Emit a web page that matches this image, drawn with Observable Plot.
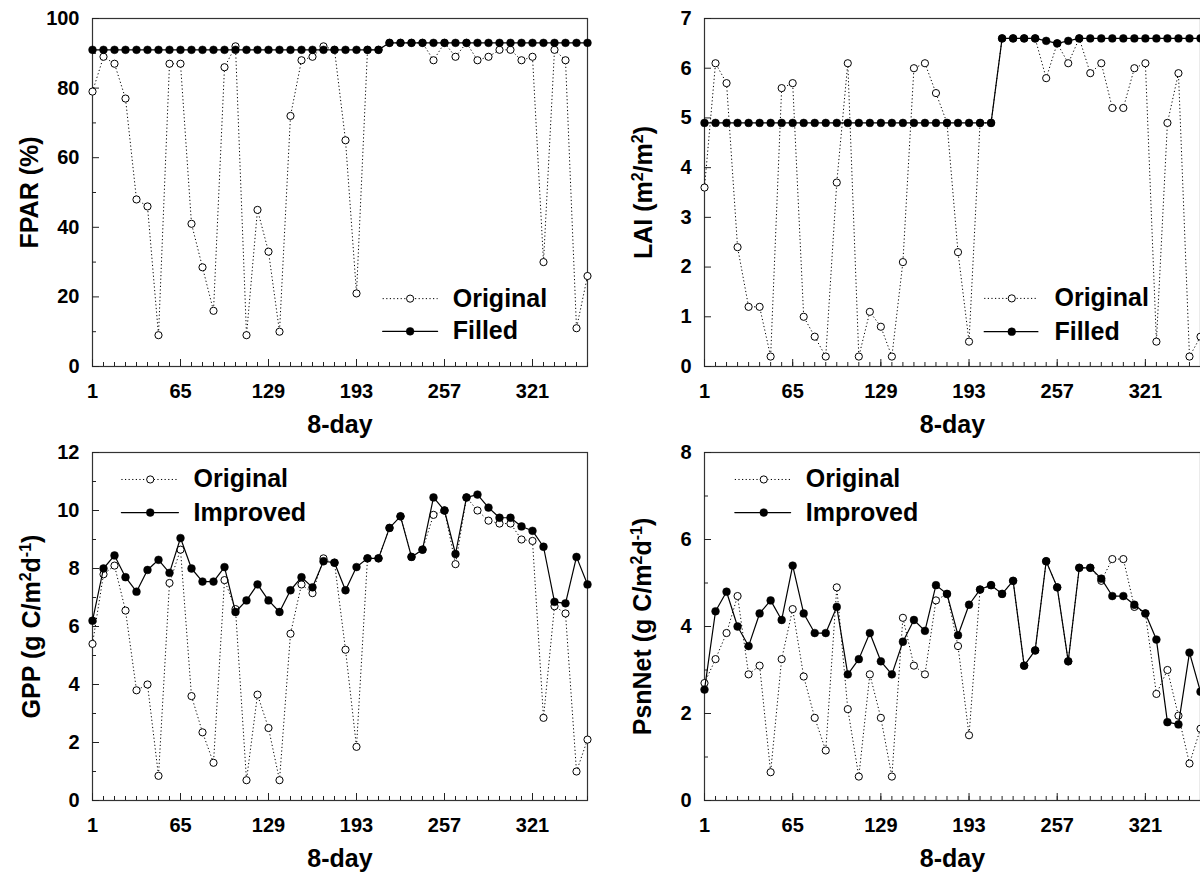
<!DOCTYPE html>
<html>
<head>
<meta charset="utf-8">
<script src="https://cdn.jsdelivr.net/npm/d3@7"></script>
<script src="https://cdn.jsdelivr.net/npm/@observablehq/plot@0.6"></script>
<style>
  html, body { margin: 0; padding: 0; background: #fff; }
  #chart { position: relative; width: 1200px; height: 874px; overflow: hidden; background: #fff; }
  #chart > div { position: absolute; }
</style>
</head>
<body>
<div id="chart"></div>
<script>
// ---------------- data ----------------
const days = [1, 9, 17, 25, 33, 41, 49, 57, 65, 73, 81, 89, 97, 105, 113, 121, 129, 137, 145, 153, 161, 169, 177, 185,
  193, 201, 209, 217, 225, 233, 241, 249, 257, 265, 273, 281, 289, 297, 305, 313, 321, 329, 337, 345, 353, 361];
const xMajorTicks = [1, 65, 129, 193, 257, 321];

const fparOriginal = [79, 89, 87, 77, 48, 46, 9, 87, 87, 41, 28.5, 16, 86, 92, 9, 45, 33, 10, 72, 88, 89, 92, 91, 65,
  21, 91, 91, 93, 93, 93, 93, 88, 93, 89, 93, 88, 89, 91, 91, 88, 89, 30, 91, 88, 11, 26];
const fparFilled = [91, 91, 91, 91, 91, 91, 91, 91, 91, 91, 91, 91, 91, 91, 91, 91, 91, 91, 91, 91, 91, 91, 91, 91,
  91, 91, 91, 93, 93, 93, 93, 93, 93, 93, 93, 93, 93, 93, 93, 93, 93, 93, 93, 93, 93, 93];

const laiOriginal = [3.6, 6.1, 5.7, 2.4, 1.2, 1.2, 0.2, 5.6, 5.7, 1.0, 0.6, 0.2, 3.7, 6.1, 0.2, 1.1, 0.8, 0.2, 2.1, 6.0, 6.1, 5.5, 4.9, 2.3,
  0.5, 4.9, 4.9, 6.6, 6.6, 6.6, 6.6, 5.8, 6.5, 6.1, 6.6, 5.9, 6.1, 5.2, 5.2, 6.0, 6.1, 0.5, 4.9, 5.9, 0.2, 0.6];
const laiFilled = [4.9, 4.9, 4.9, 4.9, 4.9, 4.9, 4.9, 4.9, 4.9, 4.9, 4.9, 4.9, 4.9, 4.9, 4.9, 4.9, 4.9, 4.9, 4.9, 4.9, 4.9, 4.9, 4.9, 4.9,
  4.9, 4.9, 4.9, 6.6, 6.6, 6.6, 6.6, 6.55, 6.5, 6.55, 6.6, 6.6, 6.6, 6.6, 6.6, 6.6, 6.6, 6.6, 6.6, 6.6, 6.6, 6.6];

const gppOriginal = [5.4, 7.8, 8.1, 6.55, 3.8, 4.0, 0.85, 7.5, 8.65, 3.6, 2.35, 1.3, 7.6, 6.6, 0.7, 3.65, 2.5, 0.7, 5.75, 7.45, 7.15, 8.35, 8.2, 5.2,
  1.85, 8.35, 8.35, 9.4, 9.8, 8.4, 8.65, 9.85, 10.0, 8.15, 10.45, 10.0, 9.65, 9.55, 9.55, 9.0, 8.95, 2.85, 6.7, 6.45, 1.0, 2.1];
const gppImproved = [6.2, 8.0, 8.45, 7.7, 7.2, 7.95, 8.3, 7.85, 9.05, 8.0, 7.55, 7.55, 8.05, 6.5, 6.9, 7.45, 6.9, 6.5, 7.25, 7.7, 7.35, 8.25, 8.2, 7.25,
  8.05, 8.35, 8.35, 9.4, 9.8, 8.4, 8.65, 10.45, 10.0, 8.5, 10.45, 10.55, 10.1, 9.75, 9.75, 9.45, 9.3, 8.75, 6.85, 6.8, 8.4, 7.45];

const psnOriginal = [2.7, 3.25, 3.85, 4.7, 2.9, 3.1, 0.65, 3.25, 4.4, 2.85, 1.9, 1.15, 4.9, 2.1, 0.55, 2.9, 1.9, 0.55, 4.2, 3.1, 2.9, 4.6, 4.75, 3.55,
  1.5, 4.85, 4.95, 4.75, 5.05, 3.1, 3.45, 5.5, 4.9, 3.2, 5.35, 5.35, 5.05, 5.55, 5.55, 4.45, 4.3, 2.45, 3.0, 1.95, 0.85, 1.65];
const psnImproved = [2.55, 4.35, 4.8, 4.0, 3.55, 4.3, 4.6, 4.15, 5.4, 4.3, 3.85, 3.85, 4.45, 2.9, 3.25, 3.85, 3.2, 2.9, 3.65, 4.15, 3.9, 4.95, 4.75, 3.8,
  4.5, 4.85, 4.95, 4.75, 5.05, 3.1, 3.45, 5.5, 4.9, 3.2, 5.35, 5.35, 5.1, 4.7, 4.7, 4.5, 4.3, 3.7, 1.8, 1.75, 3.4, 2.5];

const fparTicks = [0, 20, 40, 60, 80, 100], fparMinor = [10, 30, 50, 70, 90];
const laiTicks = [0, 1, 2, 3, 4, 5, 6, 7], laiMinor = [];
const gppTicks = [0, 2, 4, 6, 8, 10, 12], gppMinor = [1, 3, 5, 7, 9, 11];
const psnTicks = [0, 2, 4, 6, 8], psnMinor = [1, 3, 5, 7];

// ---------------- drawing ----------------
const FONT = '"Liberation Sans", Arial, Helvetica, sans-serif';
const HEIGHT = 440, M_TOP = 18, M_BOTTOM = 74;
const INNER_H = HEIGHT - M_TOP - M_BOTTOM;
const SVGNS = "http://www.w3.org/2000/svg";

function richify(textEl) {
  const src = textEl.textContent;
  const supChars = {"\u00B2": "2", "\u00B9": "1", "\u207B": "-"};
  const parts = [];
  for (const ch of src) {
    const sup = ch in supChars;
    const c = sup ? supChars[ch] : ch;
    if (parts.length && parts[parts.length - 1].sup === sup) parts[parts.length - 1].t += c;
    else parts.push({t: c, sup});
  }
  if (!parts.some(p => p.sup)) return;
  textEl.textContent = "";
  let shifted = false;
  for (const p of parts) {
    const ts = document.createElementNS(SVGNS, "tspan");
    ts.textContent = p.t;
    if (p.sup) {
      ts.setAttribute("font-size", "16");
      if (!shifted) { ts.setAttribute("dy", "-9"); shifted = true; }
    } else if (shifted) {
      ts.setAttribute("dy", "9"); shifted = false;
    }
    textEl.appendChild(ts);
  }
}

function makePanel(cfg) {
  const innerW = cfg.width - cfg.marginLeft - cfg.marginRight;
  const rows = days.map((d, i) => ({day: d, orig: cfg.orig[i], impr: cfg.impr[i]}));
  const lg = cfg.legend;
  const legOrigLine = [{x: lg.x1, y: lg.yA}, {x: lg.x2, y: lg.yA}];
  const legImprLine = [{x: lg.x1, y: lg.yB}, {x: lg.x2, y: lg.yB}];
  const legOrigDot = [{x: lg.xm, y: lg.yA}];
  const legImprDot = [{x: lg.xm, y: lg.yB}];
  const legText = [{x: lg.xt, y: lg.yA, t: cfg.names[0]}, {x: lg.xt, y: lg.yB, t: cfg.names[1]}];

  const dotted = {stroke: "black", strokeWidth: 1, strokeDasharray: "1.2,2.4", strokeLinecap: "butt"};
  const solid = {stroke: "black", strokeWidth: 1.2};

  const plot = Plot.plot({
    width: cfg.width,
    height: HEIGHT,
    marginLeft: cfg.marginLeft,
    marginRight: cfg.marginRight,
    marginTop: M_TOP,
    marginBottom: M_BOTTOM,
    style: {fontFamily: FONT, fontSize: "20px", fontWeight: "bold", background: "transparent", color: "black", overflow: "visible"},
    x: {domain: [1, 361]},
    y: {domain: cfg.yDomain},
    marks: [
      Plot.frame({stroke: "#333", strokeWidth: 1.2}),
      Plot.tickX(days, {x: d => d, insetTop: INNER_H - 4, stroke: "#222"}),
      Plot.tickX(xMajorTicks, {x: d => d, insetTop: INNER_H - 7, stroke: "#222"}),
      Plot.tickY(cfg.yMinor, {y: d => d, insetRight: innerW - 4, stroke: "#222"}),
      Plot.tickY(cfg.yTicks, {y: d => d, insetRight: innerW - 7, stroke: "#222"}),
      Plot.axisX({ticks: xMajorTicks, tickSize: 0, tickPadding: 17, tickFormat: d => String(d),
        label: "8-day", labelAnchor: "center", labelOffset: 66, labelArrow: "none"}),
      Plot.axisY({ticks: cfg.yTicks, tickSize: 0, tickPadding: 13, tickFormat: d => String(d),
        label: cfg.yLabel, labelAnchor: "center", labelOffset: cfg.labelOffset, labelArrow: "none"}),
      Plot.line(rows, {x: "day", y: "orig", ...dotted}),
      Plot.dot(rows, {x: "day", y: "orig", r: 3.6, fill: "white", stroke: "black", strokeWidth: 1}),
      Plot.line(rows, {x: "day", y: "impr", ...solid}),
      Plot.dot(rows, {x: "day", y: "impr", r: 3.9, fill: "black", stroke: "black", strokeWidth: 0.5}),
      // legend
      Plot.line(legOrigLine, {x: "x", y: "y", ...dotted}),
      Plot.dot(legOrigDot, {x: "x", y: "y", r: 3.6, fill: "white", stroke: "black", strokeWidth: 1}),
      Plot.line(legImprLine, {x: "x", y: "y", ...solid}),
      Plot.dot(legImprDot, {x: "x", y: "y", r: 3.9, fill: "black", stroke: "black", strokeWidth: 0.5}),
      Plot.text(legText, {x: "x", y: "y", text: "t", textAnchor: "start", fontSize: 25, fontWeight: "bold", fill: "black"})
    ]
  });

  plot.querySelectorAll('g[aria-label="x-axis label"], g[aria-label="y-axis label"]').forEach(g => {
    g.setAttribute("font-size", "25");
    g.querySelectorAll("text").forEach(t => t.removeAttribute("font-size"));
  });
  const yl = plot.querySelector('g[aria-label="y-axis label"] text');
  if (yl) richify(yl);

  const host = document.createElement("div");
  host.style.left = cfg.left + "px";
  host.style.top = cfg.top + "px";
  host.style.width = cfg.width + "px";
  host.style.height = HEIGHT + "px";
  host.appendChild(plot);
  document.getElementById("chart").appendChild(host);
}

makePanel({
  left: 0, top: 0, width: 600, marginLeft: 92, marginRight: 13,
  yDomain: [0, 100], yTicks: fparTicks, yMinor: fparMinor, yLabel: "FPAR (%)", labelOffset: 72,
  orig: fparOriginal, impr: fparFilled, names: ["Original", "Filled"],
  legend: {x1: 212, x2: 252, xm: 232, xt: 263, yA: 19.5, yB: 10.1}
});
makePanel({
  left: 600, top: 0, width: 613, marginLeft: 104, marginRight: 13,
  yDomain: [0, 7], yTicks: laiTicks, yMinor: laiMinor, yLabel: "LAI (m\u00B2/m\u00B2)", labelOffset: 70,
  orig: laiOriginal, impr: laiFilled, names: ["Original", "Filled"],
  legend: {x1: 204, x2: 243, xm: 224, xt: 255, yA: 1.37, yB: 0.70}
});
makePanel({
  left: 0, top: 434, width: 600, marginLeft: 92, marginRight: 13,
  yDomain: [0, 12], yTicks: gppTicks, yMinor: gppMinor, yLabel: "GPP (g C/m\u00B2d\u207B\u00B9)", labelOffset: 70,
  orig: gppOriginal, impr: gppImproved, names: ["Original", "Improved"],
  legend: {x1: 22, x2: 63.5, xm: 43, xt: 74.5, yA: 11.07, yB: 9.93}
});
makePanel({
  left: 600, top: 434, width: 613, marginLeft: 104, marginRight: 13,
  yDomain: [0, 8], yTicks: psnTicks, yMinor: psnMinor, yLabel: "PsnNet (g C/m\u00B2d\u207B\u00B9)", labelOffset: 71,
  orig: psnOriginal, impr: psnImproved, names: ["Original", "Improved"],
  legend: {x1: 23, x2: 63.5, xm: 44, xt: 74.5, yA: 7.38, yB: 6.62}
});
</script>
</body>
</html>
